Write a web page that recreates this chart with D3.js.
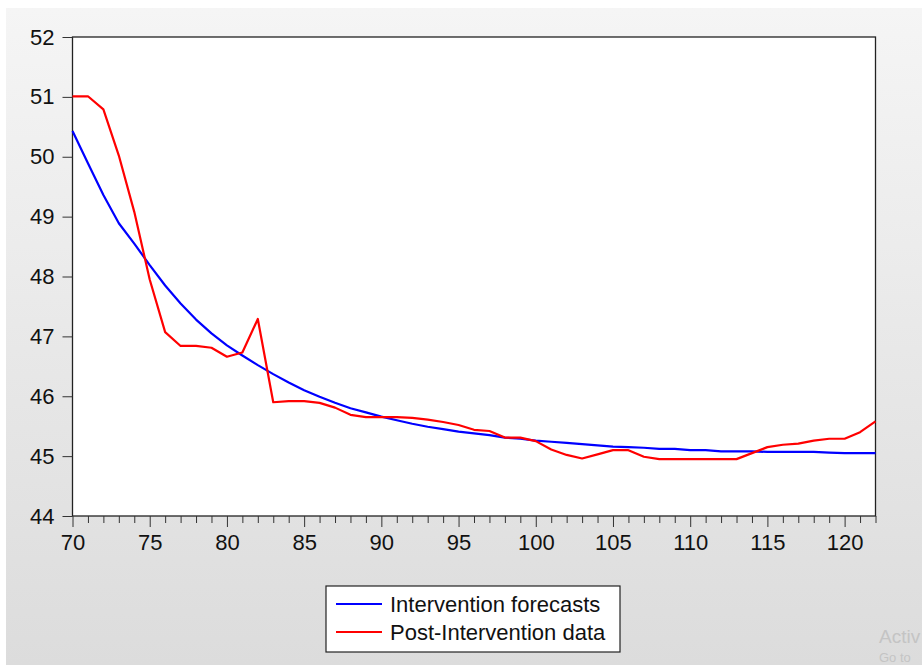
<!DOCTYPE html>
<html>
<head>
<meta charset="utf-8">
<script src="https://cdn.jsdelivr.net/npm/d3@7"></script>
<style>
    html, body { margin: 0; padding: 0; background: #ffffff; }
    #chart { width: 922px; height: 665px; overflow: hidden; }
    text { font-family: Arial, "Liberation Sans", sans-serif; }
</style>
</head>
<body>
<div id="chart"></div>
<script>
// Periods (x values)
const periods = d3.range(70, 123);

// Intervention forecasts (blue)
const forecasts = [
    50.43, 49.89, 49.36, 48.89, 48.55, 48.19, 47.85, 47.55, 47.28, 47.05,
    46.85, 46.68, 46.52, 46.37, 46.23, 46.10, 45.99, 45.89, 45.80, 45.73,
    45.66, 45.60, 45.54, 45.49, 45.45, 45.41, 45.38, 45.35, 45.31, 45.29,
    45.26, 45.24, 45.22, 45.20, 45.18, 45.16, 45.15, 45.14, 45.12, 45.12,
    45.10, 45.10, 45.08, 45.08, 45.08, 45.07, 45.07, 45.07, 45.07, 45.06,
    45.05, 45.05, 45.05
];

// Post-Intervention data (red)
const postData = [
    51.01, 51.01, 50.79, 50.02, 49.08, 47.95, 47.07, 46.84, 46.84, 46.81,
    46.66, 46.73, 47.29, 45.90, 45.92, 45.92, 45.89, 45.81, 45.69, 45.65,
    45.65, 45.65, 45.64, 45.61, 45.57, 45.52, 45.44, 45.42, 45.31, 45.31,
    45.25, 45.11, 45.02, 44.96, 45.03, 45.10, 45.10, 44.99, 44.95, 44.95,
    44.95, 44.95, 44.95, 44.95, 45.05, 45.15, 45.19, 45.21, 45.26, 45.29,
    45.29, 45.40, 45.58
];

const yTicks = [44, 45, 46, 47, 48, 49, 50, 51, 52];
const xMajorTicks = [70, 75, 80, 85, 90, 95, 100, 105, 110, 115, 120];
const seriesNames = ["Intervention forecasts", "Post-Intervention data"];
const seriesColors = ["#0000ff", "#ff0000"];

// Chart dimensions
const width = 922;
const height = 665;
const plotLeft = 72.5;
const plotRight = 875.5;
const plotTop = 37;
const plotBottom = 516;
const fontSize = "22px";

const svg = d3.create("svg")
    .attr("width", width)
    .attr("height", height);

document.getElementById("chart").append(svg.node());

// Gray gradient background
const grad = svg.append("defs").append("linearGradient")
    .attr("id", "bg")
    .attr("x1", 0).attr("y1", 0).attr("x2", 0).attr("y2", 1);
grad.append("stop").attr("offset", "0%").attr("stop-color", "#f5f5f5");
grad.append("stop").attr("offset", "100%").attr("stop-color", "#dcdcdc");

svg.append("rect")
    .attr("x", 6).attr("y", 8)
    .attr("width", width - 6).attr("height", height - 8)
    .attr("fill", "url(#bg)");

// Scales
const x = d3.scaleLinear()
    .domain([70, 122])
    .range([plotLeft, plotRight]);

const y = d3.scaleLinear()
    .domain([44, 52])
    .range([plotBottom, plotTop]);

// Plot area
svg.append("rect")
    .attr("x", plotLeft).attr("y", plotTop)
    .attr("width", plotRight - plotLeft).attr("height", plotBottom - plotTop)
    .attr("fill", "#ffffff")
    .attr("stroke", "#222")
    .attr("stroke-width", 1.3);

// Y axis
const gy = svg.append("g")
    .attr("transform", `translate(${plotLeft},0)`)
    .call(d3.axisLeft(y).tickValues(yTicks).tickFormat(d3.format("d")).tickSize(10).tickPadding(8));
gy.select(".domain").remove();
gy.selectAll("line").attr("stroke", "#333");
gy.selectAll("text").attr("font-size", fontSize).attr("fill", "#111").style("font-family", "Arial, 'Liberation Sans', sans-serif");

// X axis: minor ticks every period, longer ones every 5
const gxMinor = svg.append("g")
    .attr("transform", `translate(0,${plotBottom})`)
    .call(d3.axisBottom(x).tickValues(periods.filter(d => d % 5 !== 0)).tickSize(7).tickFormat(""));
gxMinor.select(".domain").remove();
gxMinor.selectAll("line").attr("stroke", "#333");

const gx = svg.append("g")
    .attr("transform", `translate(0,${plotBottom})`)
    .call(d3.axisBottom(x).tickValues(xMajorTicks).tickSize(11).tickPadding(7));
gx.select(".domain").remove();
gx.selectAll("line").attr("stroke", "#333");
gx.selectAll("text").attr("font-size", fontSize).attr("fill", "#111").style("font-family", "Arial, 'Liberation Sans', sans-serif");

// Lines
const line = d3.line()
    .x((d, i) => x(periods[i]))
    .y(d => y(d));

[forecasts, postData].forEach((series, k) => {
    svg.append("path")
        .datum(series)
        .attr("fill", "none")
        .attr("stroke", seriesColors[k])
        .attr("stroke-width", 2.2)
        .attr("stroke-linejoin", "round")
        .attr("d", line);
});

// Legend
const legend = svg.append("g").attr("transform", "translate(326,586)");
legend.append("rect")
    .attr("width", 294).attr("height", 66)
    .attr("fill", "#ffffff")
    .attr("stroke", "#222")
    .attr("stroke-width", 1.2);

seriesNames.forEach((name, i) => {
    const cy = 18 + i * 28;
    legend.append("line")
        .attr("x1", 10).attr("x2", 56)
        .attr("y1", cy).attr("y2", cy)
        .attr("stroke", seriesColors[i])
        .attr("stroke-width", 2.2);
    legend.append("text")
        .attr("x", 64).attr("y", cy)
        .attr("dy", "0.36em")
        .attr("font-size", fontSize)
        .attr("fill", "#111")
        .text(name);
});

// Windows watermark in the corner (only the visible part)
svg.append("text")
    .attr("x", 879).attr("y", 643)
    .attr("font-size", "19px")
    .attr("fill", "#c4c4c4")
    .text("Activ");
svg.append("text")
    .attr("x", 879).attr("y", 662)
    .attr("font-size", "13px")
    .attr("fill", "#c4c4c4")
    .text("Go to");
</script>
</body>
</html>
